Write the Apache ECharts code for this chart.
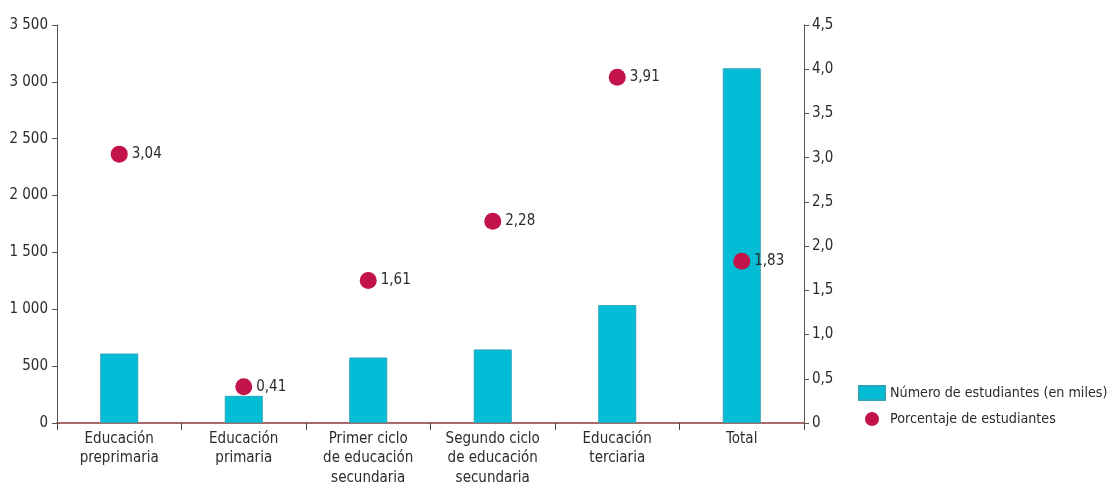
<!DOCTYPE html>
<html>
<head>
<meta charset="utf-8">
<script src="https://cdn.jsdelivr.net/npm/echarts@6/dist/echarts.min.js"></script>
<style>
html, body { margin: 0; padding: 0; background: #fff; }
#chart { width: 1110px; height: 484px; }
</style>
</head>
<body>
<div id="chart"></div>
<script>
// categorias y valores
var categories = [
	'Educación\npreprimaria',
	'Educación\nprimaria',
	'Primer ciclo\nde educación\nsecundaria',
	'Segundo ciclo\nde educación\nsecundaria',
	'Educación\nterciaria',
	'Total'
];
var students = [611, 239, 576, 647, 1037, 3119];
var percent = [3.04, 0.41, 1.61, 2.28, 3.91, 1.83];

var font = '"Liberation Sans Narrow", "DejaVu Sans Condensed", "Roboto", sans-serif';
var txt = '#2b2b2b';

var chart = echarts.init(document.getElementById('chart'));
chart.setOption({
	animation: false,
	textStyle: { fontFamily: font },
	grid: { left: 57, right: 306, top: 25, bottom: 61, outerBoundsMode: 'none', containLabel: false },
	legend: {
		orient: 'vertical',
		left: 858,
		top: 385,
		padding: 0,
		itemWidth: 26,
		itemHeight: 14,
		itemGap: 11,
		textStyle: { fontFamily: font, fontSize: 14.2, color: txt },
		data: [
			{ name: 'Número de estudiantes (en miles)', icon: 'rect' },
			{ name: 'Porcentaje de estudiantes', icon: 'circle' }
		]
	},
	xAxis: {
		type: 'category',
		data: categories,
		axisLine: { lineStyle: { color: '#8a3b3b', width: 1.5 } },
		axisTick: { show: true, length: 7, lineStyle: { color: '#444' } },
		axisLabel: {
			color: txt,
			fontSize: 15,
			lineHeight: 19.5,
			margin: 6,
			interval: 0,
			fontFamily: font
		}
	},
	yAxis: [
		{
			type: 'value',
			min: 0,
			max: 3500,
			interval: 500,
			splitLine: { show: false },
			axisLine: { show: true, lineStyle: { color: '#555' } },
			axisTick: { show: true, length: 5, lineStyle: { color: '#555' } },
			axisLabel: {
				color: txt,
				fontSize: 15,
				margin: 9,
				fontFamily: font,
				formatter: function(v) {
					return String(v).replace(/\B(?=(\d{3})+(?!\d))/g, ' ');
				}
			}
		},
		{
			type: 'value',
			min: 0,
			max: 4.5,
			interval: 0.5,
			position: 'right',
			splitLine: { show: false },
			axisLine: { show: true, lineStyle: { color: '#555' } },
			axisTick: { show: true, length: 5, lineStyle: { color: '#555' } },
			axisLabel: {
				color: txt,
				fontSize: 15,
				margin: 8,
				fontFamily: font,
				formatter: function(v) {
					return v === 0 ? '0' : v.toFixed(1).replace('.', ',');
				}
			}
		}
	],
	series: [
		{
			name: 'Número de estudiantes (en miles)',
			type: 'bar',
			yAxisIndex: 0,
			data: students,
			barWidth: 38,
			itemStyle: { color: '#03bcd6', borderColor: '#2aa6b8', borderWidth: 1 }
		},
		{
			name: 'Porcentaje de estudiantes',
			type: 'scatter',
			yAxisIndex: 1,
			data: percent,
			symbolSize: 17,
			itemStyle: { color: '#c2134a', opacity: 1 },
			label: {
				show: true,
				position: 'right',
				distance: 4,
				color: txt,
				fontSize: 15,
				fontFamily: font,
				formatter: function(p) {
					return p.value.toFixed(2).replace('.', ',');
				}
			}
		}
	]
});
</script>
</body>
</html>
